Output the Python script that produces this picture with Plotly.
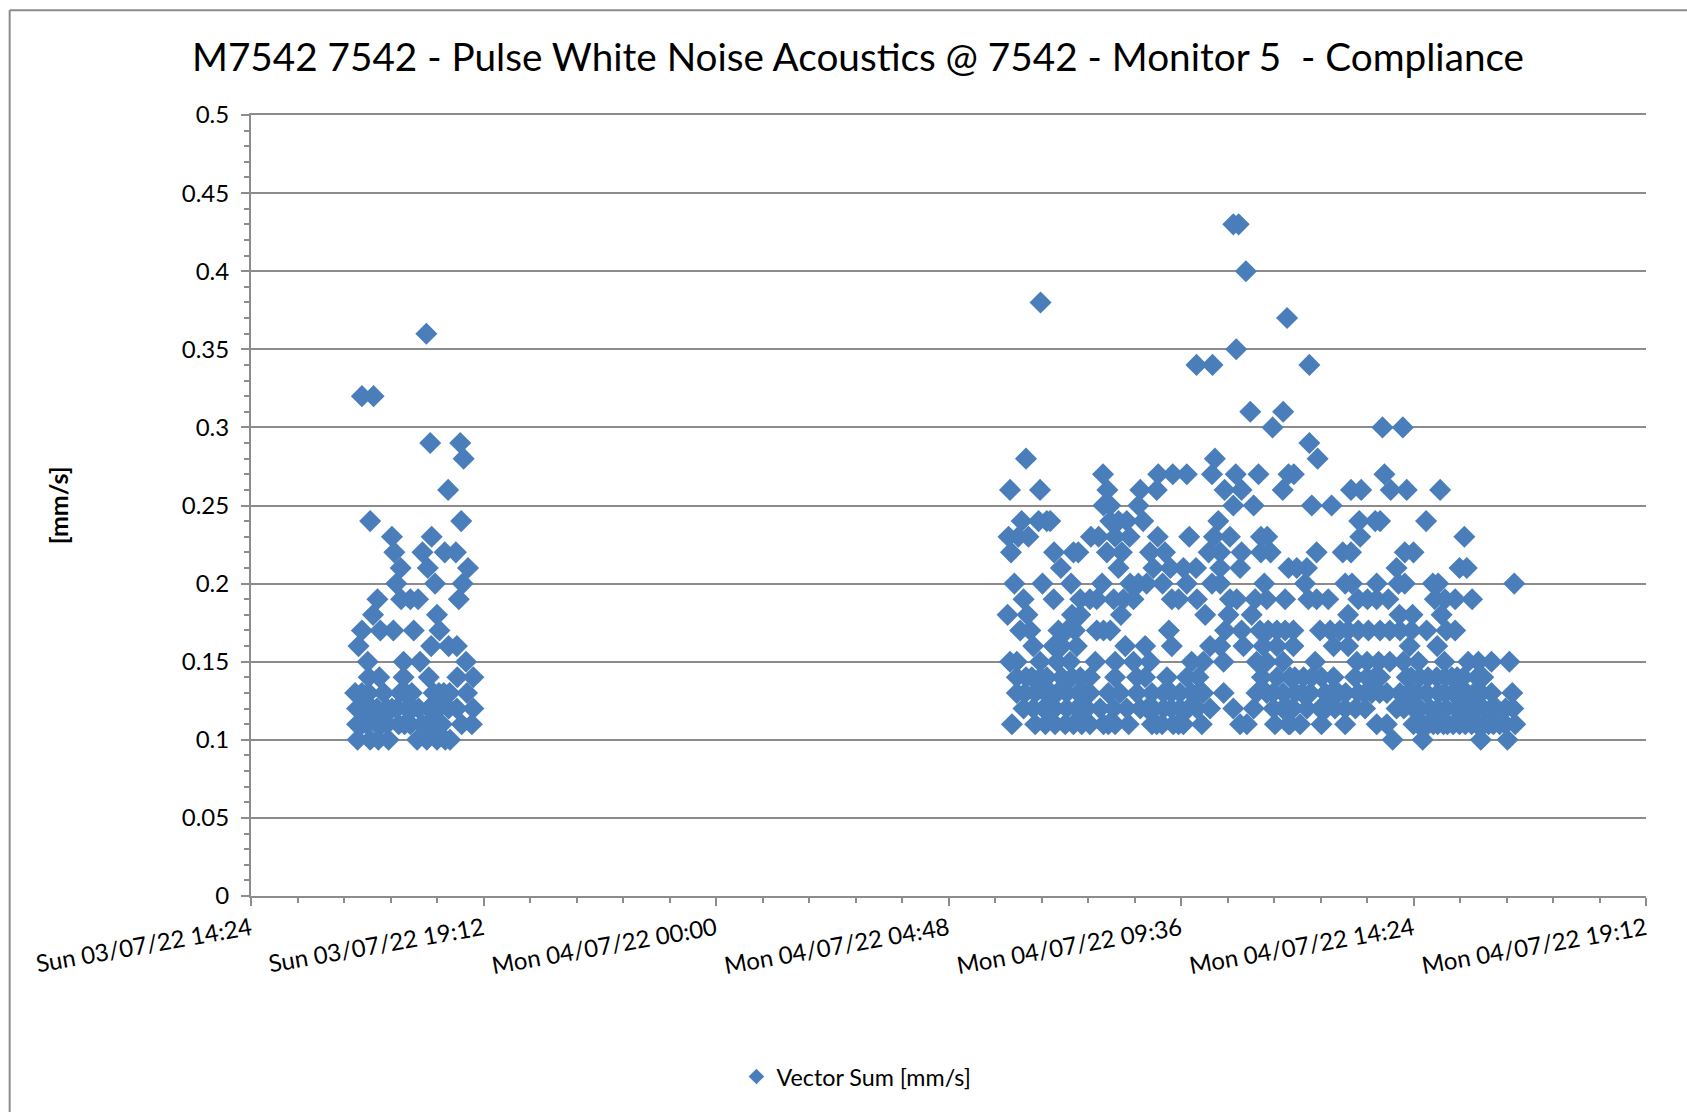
import pandas as pd
import plotly.graph_objects as go

# hours after the start of the axis (Sun 03/07/22 14:24), one list per reading level in mm/s
h_010 = [2.20, 2.46, 2.63, 2.84, 3.43, 3.63, 3.84, 4.01, 4.11, 23.57, 24.19, 25.39, 25.94]
h_011 = [2.19, 2.29, 2.39, 2.60, 2.70, 2.81, 3.05, 3.17, 3.29, 3.53, 3.63, 3.73, 3.84, 3.94, 4.35, 4.56,
         15.71, 16.19, 16.40, 16.60, 16.81, 16.98, 17.15, 17.32, 17.60, 17.70, 17.84,
         18.12, 18.60, 18.70, 18.81, 19.04, 19.15, 19.25, 19.63,
         20.42, 20.56, 21.14, 21.42, 21.45, 21.66, 22.10, 22.59, 23.24, 23.45, 24.00, 24.10, 24.20, 24.30, 24.41, 24.50,
         24.62, 24.70, 24.82, 24.95, 25.07, 25.20, 25.31, 25.45, 25.55, 25.65, 25.78, 25.90, 26.10]
h_012 = [2.19, 2.39, 2.50, 2.60, 2.81, 2.91, 3.01, 3.22, 3.34, 3.46, 3.67, 3.77, 3.87, 4.08, 4.25, 4.59,
         15.95, 16.15, 16.36, 16.48, 16.60, 16.84, 17.05, 17.15, 17.26, 17.53, 17.81,
         18.08, 18.36, 18.50, 18.63, 18.84, 19.00, 19.18, 19.35, 19.53,
         19.80, 20.28, 20.70, 21.11, 21.30, 21.42, 21.52, 21.80, 22.07, 22.20, 22.38, 22.59, 22.80, 23.00, 23.65, 23.80,
         24.00, 24.13, 24.34, 24.50, 24.68, 24.89, 25.00, 25.17, 25.30, 25.44, 25.60, 25.72, 25.90, 26.06]
h_013 = [2.15, 2.29, 2.43, 2.74, 3.08, 3.20, 3.32, 3.77, 3.88, 3.98, 4.10, 4.46,
         15.81, 15.98, 16.19, 16.40, 16.52, 16.64, 16.84, 17.08, 17.20, 17.32, 17.70, 17.94,
         18.29, 18.60, 18.84, 19.00, 19.18, 19.42, 19.55, 19.66,
         20.08, 20.76, 20.97, 21.10, 21.31, 21.56, 21.70, 21.87, 22.18, 22.30, 22.45, 22.60, 22.86, 23.00, 23.14, 23.30,
         23.45, 23.72, 23.90, 24.07, 24.27, 24.51, 24.65, 24.82, 24.95, 25.10, 25.25, 25.40, 25.61, 26.04]
h_014 = [2.43, 2.65, 3.15, 3.67, 4.26, 4.59,
         15.81, 16.00, 16.12, 16.30, 16.43, 16.74, 16.95, 17.12, 17.32, 17.84, 18.29, 18.46, 18.91, 19.32,
         19.56, 20.87, 21.18, 21.45, 21.55,
         21.73, 21.90, 22.10, 22.35, 22.79, 23.04, 23.20, 23.31, 23.86, 23.95, 24.13, 24.30, 24.48, 24.65, 24.79, 24.90,
         25.03, 25.31, 25.44]
h_015 = [2.41, 3.15, 3.49, 4.44,
         15.67, 15.81, 16.29, 16.64, 16.91, 17.43, 17.84, 18.22, 18.56, 19.42, 19.66, 20.08, 20.76, 20.97, 21.31,
         21.97, 22.83, 23.04, 23.28, 23.51, 23.79, 24.10, 24.64, 25.13, 25.34, 25.61, 25.98]
h_016 = [2.22, 3.72, 4.08, 4.25,
         16.15, 16.57, 16.74, 17.05, 18.05, 18.46, 19.01, 19.80, 20.01, 20.49, 20.90, 21.18, 21.52, 22.35, 22.65,
         23.92, 24.49]
h_017 = [2.29, 2.67, 2.94, 3.36, 3.89,
         15.88, 16.09, 16.67, 16.84, 17.01, 17.46, 17.60, 17.74, 18.95, 20.11, 20.45, 20.83, 21.00, 21.18, 21.35,
         21.52, 22.07, 22.28, 22.48, 22.65, 22.86, 23.07, 23.31, 23.51, 23.72, 23.96, 24.27, 24.68, 24.86]
h_018 = [2.52, 3.84,
         15.62, 16.03, 16.95, 17.12, 17.96, 19.70, 20.18, 20.66, 22.65, 23.71, 23.98, 24.58]
h_019 = [2.61, 3.10, 3.29, 3.45, 4.29,
         15.95, 16.57, 17.12, 17.32, 17.46, 17.81, 18.01, 18.22, 19.01, 19.15, 19.53, 20.21, 20.35, 20.73, 20.97,
         21.35, 21.83, 22.00, 22.24, 22.86, 23.05, 23.24, 23.48, 24.44, 24.65, 24.86, 25.21]
h_020 = [3.00, 3.80, 4.37,
         15.76, 16.34, 16.93, 17.57, 18.15, 18.32, 18.49, 18.82, 19.32, 19.84, 20.01, 20.92, 21.76, 22.59, 22.73,
         23.24, 23.69, 23.82, 24.40, 24.51, 26.08]
h_021 = [3.09, 3.65, 4.48,
         16.72, 17.91, 18.63, 18.98, 19.25, 19.51, 20.01, 20.42, 21.42, 21.59, 21.80, 23.65, 24.95, 25.10]
h_022 = [2.96, 3.54, 4.00, 4.23,
         15.69, 16.58, 16.98, 17.08, 17.67, 17.98, 18.56, 18.87, 19.77, 20.01, 20.45, 20.85, 21.05, 22.00, 22.54,
         22.71, 23.82, 24.00]
h_023 = [2.91, 3.73,
         15.64, 15.84, 16.05, 17.34, 17.50, 17.84, 18.14, 18.72, 19.37, 19.88, 20.21, 20.85, 20.98, 22.90, 25.05]
h_024 = [2.46, 4.34,
         15.91, 16.26, 16.43, 16.50, 17.74, 17.91, 18.08, 18.42, 19.97, 22.88, 23.21, 23.31, 24.26]
h_025 = [17.60, 17.74, 18.32, 20.28, 20.70, 21.90, 22.31]
h_026 = [4.07, 15.67, 16.29, 17.68, 18.36, 18.70, 20.10, 20.45, 21.30, 22.71, 22.92, 23.53, 23.86, 24.55]
h_027 = [17.59, 18.73, 19.03, 19.32, 19.84, 20.33, 20.80, 21.42, 21.53, 23.40]
h_028 = [4.39, 16.00, 19.90, 22.02]
h_029 = [3.70, 4.32, 21.85]
h_030 = [21.09, 23.36, 23.78]
h_031 = [20.63, 21.31]
h_032 = [2.29, 2.53]
h_034 = [19.52, 19.85, 21.85]
h_035 = [20.34]
h_036 = [3.62]
h_037 = [21.39]
h_038 = [16.30]
h_040 = [20.54]
h_043 = [20.28, 20.39]

levels = [0.10, 0.11, 0.12, 0.13, 0.14, 0.15, 0.16, 0.17, 0.18, 0.19, 0.20, 0.21, 0.22, 0.23, 0.24,
          0.25, 0.26, 0.27, 0.28, 0.29, 0.30, 0.31, 0.32, 0.34, 0.35, 0.36, 0.37, 0.38, 0.40, 0.43]
hours_by_level = [h_010, h_011, h_012, h_013, h_014, h_015, h_016, h_017, h_018, h_019, h_020, h_021, h_022,
                  h_023, h_024, h_025, h_026, h_027, h_028, h_029, h_030, h_031, h_032, h_034, h_035, h_036,
                  h_037, h_038, h_040, h_043]

x_ticks = ["2022-07-03 14:24", "2022-07-03 19:12", "2022-07-04 00:00", "2022-07-04 04:48",
           "2022-07-04 09:36", "2022-07-04 14:24", "2022-07-04 19:12"]
x_labels = ["Sun 03/07/22 14:24", "Sun 03/07/22 19:12", "Mon 04/07/22 00:00", "Mon 04/07/22 04:48",
            "Mon 04/07/22 09:36", "Mon 04/07/22 14:24", "Mon 04/07/22 19:12"]
y_ticks = [0, 0.05, 0.1, 0.15, 0.2, 0.25, 0.3, 0.35, 0.4, 0.45, 0.5]
y_labels = ["0", "0.05", "0.1", "0.15", "0.2", "0.25", "0.3", "0.35", "0.4", "0.45", "0.5"]

FONT = "Lato, Carlito, Arial, sans-serif"
BLUE = "#4A7EBB"
GREY = "#8C8C8C"

start = pd.Timestamp(x_ticks[0])
xs, ys = [], []
for level, hours in zip(levels, hours_by_level):
    for h in hours:
        xs.append(start + pd.Timedelta(hours=h))
        ys.append(level)

fig = go.Figure()
fig.add_trace(go.Scatter(
    x=xs, y=ys, mode="markers", showlegend=False,
    marker=dict(symbol="diamond", size=17, color=BLUE),
))
# smaller key for the legend; sits on the overlay axis that draws the inner half of the major ticks
fig.add_trace(go.Scatter(
    x=[None], y=[None], xaxis="x2", mode="markers", name="Vector Sum [mm/s]",
    marker=dict(symbol="diamond", size=12, color=BLUE),
))

fig.update_layout(
    width=1687, height=1112,
    margin=dict(l=251, r=41, t=115, b=216),
    paper_bgcolor="#FFFFFF", plot_bgcolor="#FFFFFF",
    font=dict(family=FONT, color="#000000"),
    title=dict(
        text="M7542 7542 - Pulse White Noise Acoustics @ 7542 - Monitor 5  - Compliance",
        font=dict(size=38.7), xref="container", x=0.5086, xanchor="center",
        yref="container", y=0.9487, yanchor="middle",
    ),
    legend=dict(
        x=0.434, y=-0.2315, xanchor="center", yanchor="middle",
        font=dict(size=23.3), itemsizing="trace",
        bgcolor="rgba(0,0,0,0)",
    ),
    annotations=[dict(
        text="<b>[mm/s]</b>", xref="paper", yref="paper", x=-0.1385, y=0.5, textangle=-90,
        showarrow=False, font=dict(size=25), xanchor="center", yanchor="middle",
    )],
    xaxis2=dict(
        type="date", overlaying="x", side="bottom", range=[x_ticks[0], x_ticks[-1]],
        tickmode="array", tickvals=x_ticks, ticks="inside", ticklen=7, tickwidth=1.5, tickcolor=GREY,
        showticklabels=False, showgrid=False, zeroline=False, showline=False,
    ),
)
fig.update_xaxes(
    type="date", range=[x_ticks[0], x_ticks[-1]],
    tickmode="array", tickvals=x_ticks, ticktext=x_labels, tickangle=-10,
    tickfont=dict(size=24), ticks="outside", ticklen=8, tickwidth=1.5, tickcolor=GREY,
    showgrid=False, showline=True, mirror=True, linecolor=GREY, linewidth=2, zeroline=False,
    minor=dict(dtick=3456000, tick0=x_ticks[0], ticks="outside", ticklen=5, tickwidth=1.5, tickcolor=GREY, showgrid=False),
)
fig.update_yaxes(
    range=[0, 0.5], tickmode="array", tickvals=y_ticks, ticktext=y_labels,
    tickfont=dict(size=24), ticks="outside", ticklen=8, tickwidth=1.5, tickcolor=GREY, ticklabelstandoff=7,
    showgrid=True, gridcolor=GREY, gridwidth=2, showline=True, linecolor=GREY, linewidth=2, zeroline=False,
    minor=dict(dtick=0.01, tick0=0, ticks="outside", ticklen=5, tickwidth=1.5, tickcolor=GREY, showgrid=False),
)

# chart frame, cut off by the right and bottom of the page
fig.add_shape(type="line", xref="paper", yref="paper", x0=-0.173, x1=-0.173, y0=-0.28, y1=1.134,
              line=dict(color=GREY, width=2))
fig.add_shape(type="line", xref="paper", yref="paper", x0=-0.173, x1=1.03, y0=1.134, y1=1.134,
              line=dict(color=GREY, width=2))

fig.write_html("out.html", config={"displayModeBar": False}, post_script="document.body.style.margin = '0';")
